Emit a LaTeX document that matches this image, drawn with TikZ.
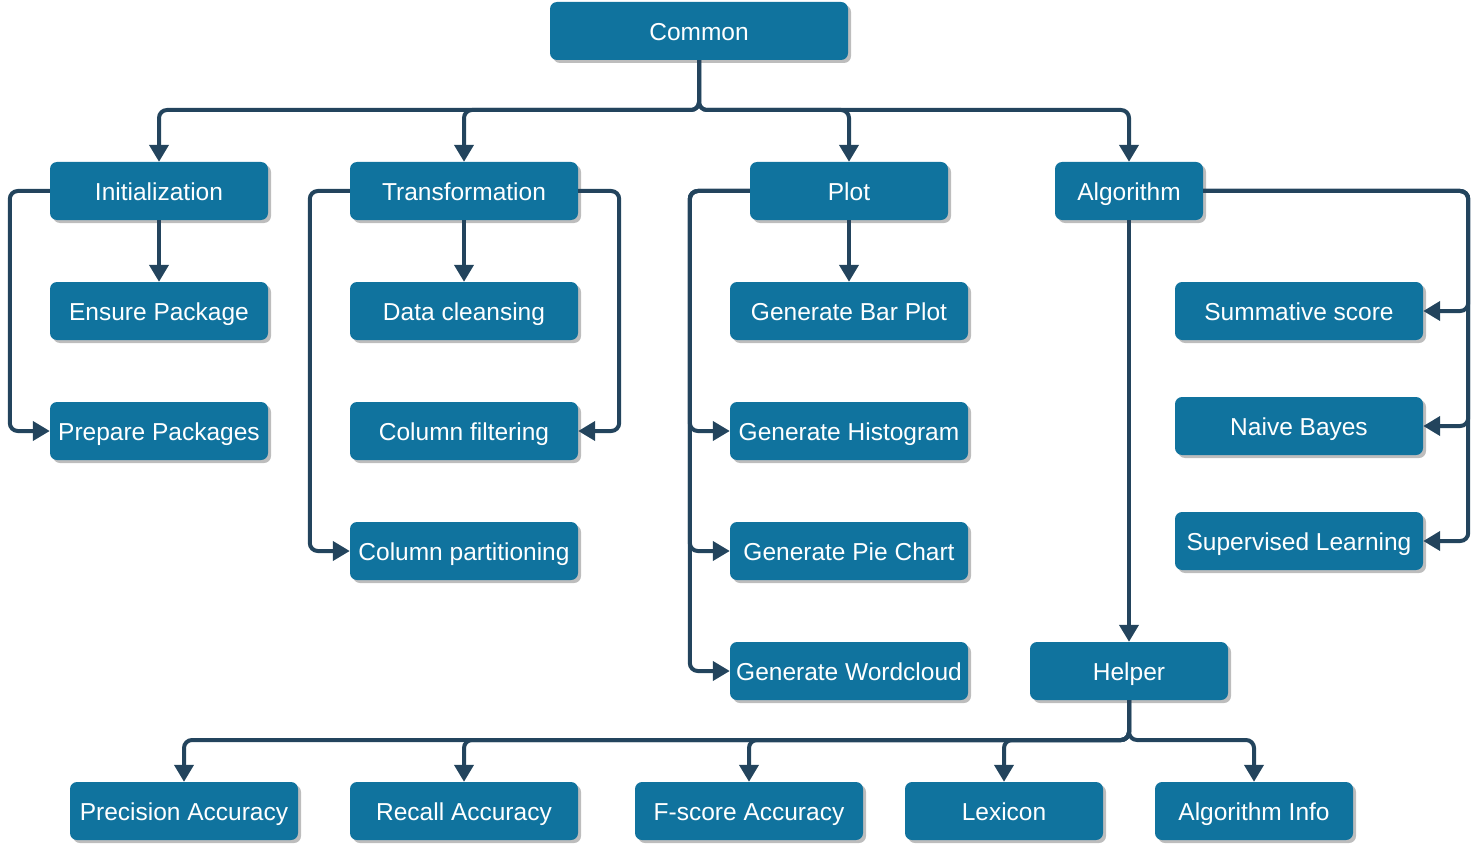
\documentclass[tikz,border=0pt]{standalone}
\usepackage{fontspec}
\setmainfont{Liberation Sans}
\usetikzlibrary{positioning, arrows.meta, shadows}
\definecolor{boxblue}{HTML}{10739E}
\definecolor{linkdark}{HTML}{23445D}
\definecolor{shadegray}{HTML}{BDBDBD}

\tikzset{
  box/.style={fill=boxblue, text=white, rounded corners=7pt, inner sep=2pt,
              minimum height=58pt, text height=19pt, text depth=0pt,
              drop shadow={shadow xshift=3pt, shadow yshift=-3pt, fill=shadegray, opacity=1}},
  link/.style={draw=linkdark, line width=4pt, rounded corners=8pt},
  arr/.style={link, -{Triangle[width=19pt,length=17pt]}}
}

\begin{document}
\begin{tikzpicture}[x=1pt, y=-1pt, font=\fontsize{24.5}{29}\selectfont]
    \useasboundingbox (0,0) rectangle (1482,845);
    % top
    \node[box, minimum width=298pt] (common) at (699,31) {Common};
    % first level
    \node[box, minimum width=218pt] (init) at (159,191) {Initialization};
    \node[box, minimum width=228pt] (trans) at (464,191) {Transformation};
    \node[box, minimum width=198pt] (plot) at (849,191) {Plot};
    \node[box, minimum width=148pt] (algo) at (1129,191) {Algorithm};
    % initialization
    \node[box, minimum width=218pt] (ensure) at (159,311) {Ensure Package};
    \node[box, minimum width=218pt] (prep) at (159,431) {Prepare Packages};
    % transformation
    \node[box, minimum width=228pt] (clean) at (464,311) {Data cleansing};
    \node[box, minimum width=228pt] (filter) at (464,431) {Column filtering};
    \node[box, minimum width=228pt] (part) at (464,551) {Column partitioning};
    % plot
    \node[box, minimum width=238pt] (bar) at (849,311) {Generate Bar Plot};
    \node[box, minimum width=238pt] (hist) at (849,431) {Generate Histogram};
    \node[box, minimum width=238pt] (pie) at (849,551) {Generate Pie Chart};
    \node[box, minimum width=238pt] (word) at (849,671) {Generate Wordcloud};
    % algorithm
    \node[box, minimum width=248pt] (summ) at (1299,311) {Summative score};
    \node[box, minimum width=248pt] (bayes) at (1299,426) {Naive Bayes};
    \node[box, minimum width=248pt] (superv) at (1299,541) {Supervised Learning};
    \node[box, minimum width=198pt] (helper) at (1129,671) {Helper};
    % helper
    \node[box, minimum width=228pt] (prec) at (184,811) {Precision Accuracy};
    \node[box, minimum width=228pt] (recall) at (464,811) {Recall Accuracy};
    \node[box, minimum width=228pt] (fscore) at (749,811) {F-score Accuracy};
    \node[box, minimum width=198pt] (lex) at (1004,811) {Lexicon};
    \node[box, minimum width=198pt] (ainfo) at (1254,811) {Algorithm Info};

    % connectors from the top
    \coordinate (cj) at (699,110);
    \foreach \t in {init, trans, plot, algo}
      \draw[arr] (common.south) -- (cj) -| (\t.north);
    % initialization
    \draw[arr] (init) -- (ensure);
    \draw[arr] (init.west) -- ++(-40,0) |- (prep.west);
    % transformation
    \draw[arr] (trans) -- (clean);
    \draw[arr] (trans.east) -- ++(41,0) |- (filter.east);
    \draw[arr] (trans.west) -- ++(-40,0) |- (part.west);
    % plot
    \draw[arr] (plot) -- (bar);
    \foreach \t in {hist, pie, word}
      \draw[arr] (plot.west) -- ++(-60,0) |- (\t.west);
    % algorithm
    \foreach \t in {summ, bayes, superv}
      \draw[arr] (algo.east) -- ++(265,0) |- (\t.east);
    \draw[arr] (algo) -- (helper);
    % helper
    \coordinate (hj) at (1129,740);
    \foreach \t in {prec, recall, fscore, lex, ainfo}
      \draw[arr] (helper.south) -- (hj) -| (\t.north);
\end{tikzpicture}
\end{document}
